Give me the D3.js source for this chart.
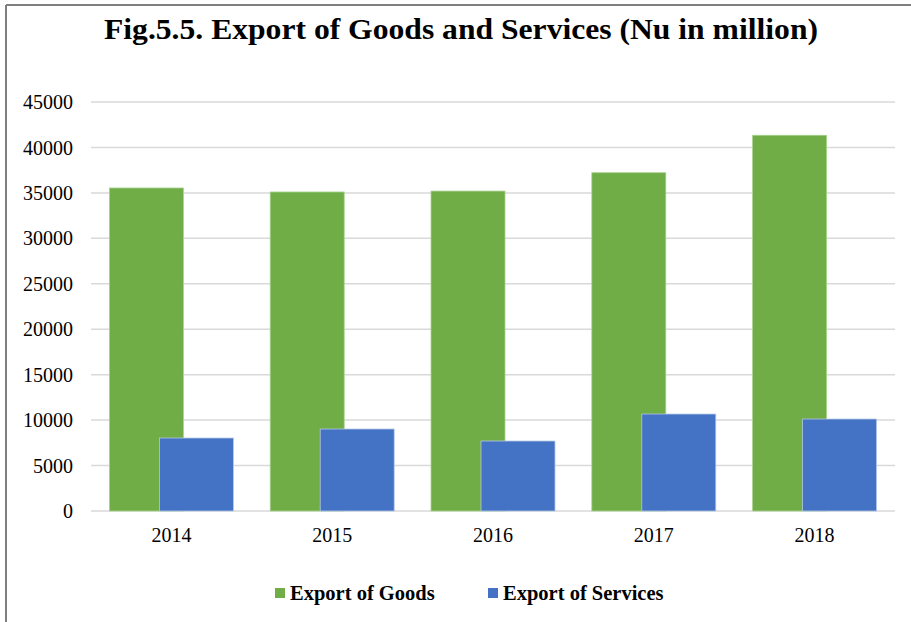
<!DOCTYPE html>
<html>
<head>
<meta charset="utf-8">
<script src="https://cdn.jsdelivr.net/npm/d3@7"></script>
<style>
  html, body { margin: 0; padding: 0; background: #fff; }
  svg { display: block; }
</style>
</head>
<body>
<svg id="chart" width="911" height="622"></svg>
<script>
// Export figures, Nu in million
const years = ["2014", "2015", "2016", "2017", "2018"];
const goods = [35540, 35100, 35200, 37220, 41340];
const services = [8030, 9020, 7700, 10670, 10120];
const yTicks = [0, 5000, 10000, 15000, 20000, 25000, 30000, 35000, 40000, 45000];
const seriesNames = ["Export of Goods", "Export of Services"];
const colors = ["#70AD47", "#4472C4"];

const svg = d3.select("#chart");
const W = 911, H = 622;
const serif = "'Liberation Serif', 'DejaVu Serif', serif";

// frame lines (top and left)
svg.append("line").attr("x1", 6).attr("x2", W).attr("y1", 5).attr("y2", 5)
  .attr("stroke", "#7f7f7f").attr("stroke-width", 2);
svg.append("line").attr("x1", 6).attr("x2", 6).attr("y1", 5).attr("y2", H)
  .attr("stroke", "#7f7f7f").attr("stroke-width", 2);

// title
svg.append("text")
  .attr("x", 461).attr("y", 39)
  .attr("text-anchor", "middle")
  .attr("font-family", serif)
  .attr("font-weight", "bold")
  .attr("font-size", 30)
  .attr("textLength", 714)
  .attr("lengthAdjust", "spacingAndGlyphs")
  .attr("fill", "#000")
  .text("Fig.5.5. Export of Goods and Services (Nu in million)");

const plot = { left: 91, right: 895, top: 102, bottom: 511 };

const y = d3.scaleLinear().domain([0, 45000]).range([plot.bottom, plot.top]);
const x = d3.scaleBand().domain(years).range([plot.left, plot.right])
  .paddingInner(0.229).paddingOuter(0.1145);
const barW = x.bandwidth() * 74 / 124;

// gridlines
svg.append("g").selectAll("line").data(yTicks).join("line")
  .attr("x1", plot.left).attr("x2", plot.right)
  .attr("y1", d => y(d)).attr("y2", d => y(d))
  .attr("stroke", "#d9d9d9").attr("stroke-width", 1.5);

// y axis labels
const yAxis = d3.axisLeft(y).tickValues(yTicks).tickSize(0).tickPadding(0)
  .tickFormat(d3.format("d"));
const gy = svg.append("g").attr("transform", `translate(${plot.left - 18},0)`).call(yAxis);
gy.select(".domain").remove();
gy.selectAll("text").attr("font-family", serif).attr("font-size", 20).attr("fill", "#000")
  .attr("dy", "0.33em");

// bars: goods at the left of each band, services overlapping at the right
svg.append("g").selectAll("rect").data(years).join("rect")
  .attr("x", d => x(d))
  .attr("y", (d, i) => y(goods[i]))
  .attr("width", barW)
  .attr("height", (d, i) => y(0) - y(goods[i]))
  .attr("fill", colors[0])
  .attr("stroke", "#a9d18e").attr("stroke-width", 0.8);

svg.append("g").selectAll("rect").data(years).join("rect")
  .attr("x", d => x(d) + x.bandwidth() - barW)
  .attr("y", (d, i) => y(services[i]))
  .attr("width", barW)
  .attr("height", (d, i) => y(0) - y(services[i]))
  .attr("fill", colors[1])
  .attr("stroke", "#b4c7e7").attr("stroke-width", 0.8);

// x axis labels
const xAxis = d3.axisBottom(x).tickSize(0).tickPadding(0);
const gx = svg.append("g").attr("transform", `translate(0,${plot.bottom + 31})`).call(xAxis);
gx.select(".domain").remove();
gx.selectAll("text").attr("font-family", serif).attr("font-size", 20).attr("fill", "#000")
  .attr("dy", "0");

// legend
const legendX = [275, 488];
const lg = svg.append("g").selectAll("g").data(seriesNames).join("g")
  .attr("transform", (d, i) => `translate(${legendX[i]},588)`);
lg.append("rect").attr("width", 10).attr("height", 10).attr("fill", (d, i) => colors[i]);
lg.append("text").attr("x", 15).attr("y", 11.5)
  .attr("font-family", serif).attr("font-weight", "bold").attr("font-size", 20.5)
  .attr("fill", "#000")
  .text(d => d);
</script>
</body>
</html>
